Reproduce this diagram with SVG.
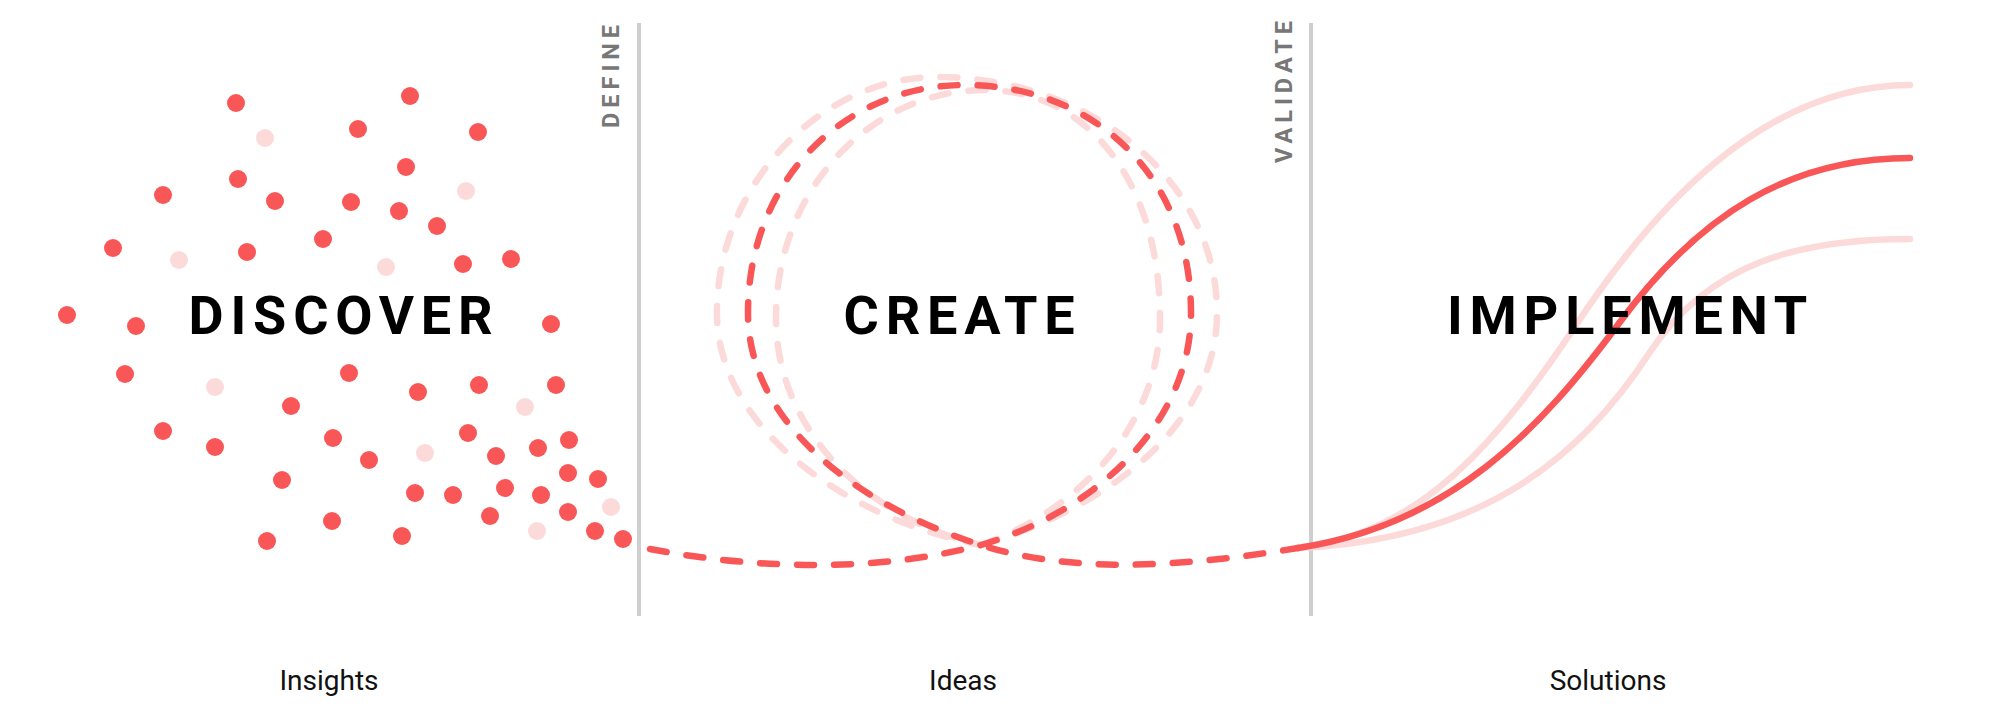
<svg xmlns="http://www.w3.org/2000/svg" width="2000" height="718" viewBox="0 0 2000 718">
<style>
.dot{fill:#F95757}
.dot.l{fill:#FDDADA}
.div{stroke:#CFCFCF;stroke-width:4;fill:none}
.title{font-family:Roboto,"Liberation Sans",sans-serif;font-weight:700;font-size:54px;letter-spacing:6.8px;fill:#000;text-anchor:middle}
.gate{font-family:Roboto,"Liberation Sans",sans-serif;font-weight:700;font-size:23.5px;letter-spacing:5px;fill:#777}
.lab{font-family:Roboto,"Liberation Sans",sans-serif;font-size:28px;fill:#111;text-anchor:middle}
.dash{fill:none;stroke:#F95757;stroke-width:6.5;stroke-linecap:round;stroke-dasharray:17 20}
.dashl{fill:none;stroke:#FDDADA;stroke-width:6.5;stroke-linecap:round;stroke-dasharray:17 20}
.solid{fill:none;stroke:#F95757;stroke-width:6.5;stroke-linecap:round}
.solidl{fill:none;stroke:#FDDADA;stroke-width:6.5;stroke-linecap:round}
</style>
<rect width="2000" height="718" fill="#fff"/>
<g id="discover">
<circle class="dot" cx="236" cy="103" r="9"/>
<circle class="dot l" cx="265" cy="138" r="9"/>
<circle class="dot" cx="410" cy="96" r="9"/>
<circle class="dot" cx="358" cy="129" r="9"/>
<circle class="dot" cx="478" cy="132" r="9"/>
<circle class="dot" cx="406" cy="167" r="9"/>
<circle class="dot" cx="238" cy="179" r="9"/>
<circle class="dot" cx="163" cy="195" r="9"/>
<circle class="dot" cx="275" cy="201" r="9"/>
<circle class="dot" cx="351" cy="202" r="9"/>
<circle class="dot" cx="399" cy="211" r="9"/>
<circle class="dot l" cx="466" cy="191" r="9"/>
<circle class="dot" cx="437" cy="226" r="9"/>
<circle class="dot" cx="323" cy="239" r="9"/>
<circle class="dot" cx="113" cy="248" r="9"/>
<circle class="dot l" cx="179" cy="260" r="9"/>
<circle class="dot" cx="247" cy="252" r="9"/>
<circle class="dot l" cx="386" cy="267" r="9"/>
<circle class="dot" cx="463" cy="264" r="9"/>
<circle class="dot" cx="511" cy="259" r="9"/>
<circle class="dot" cx="67" cy="315" r="9"/>
<circle class="dot" cx="136" cy="326" r="9"/>
<circle class="dot" cx="551" cy="324" r="9"/>
<circle class="dot" cx="125" cy="374" r="9"/>
<circle class="dot l" cx="215" cy="387" r="9"/>
<circle class="dot" cx="349" cy="373" r="9"/>
<circle class="dot" cx="418" cy="392" r="9"/>
<circle class="dot" cx="479" cy="385" r="9"/>
<circle class="dot" cx="556" cy="385" r="9"/>
<circle class="dot l" cx="525" cy="407" r="9"/>
<circle class="dot" cx="291" cy="406" r="9"/>
<circle class="dot" cx="163" cy="431" r="9"/>
<circle class="dot" cx="215" cy="447" r="9"/>
<circle class="dot" cx="333" cy="438" r="9"/>
<circle class="dot" cx="369" cy="460" r="9"/>
<circle class="dot l" cx="425" cy="453" r="9"/>
<circle class="dot" cx="468" cy="433" r="9"/>
<circle class="dot" cx="496" cy="456" r="9"/>
<circle class="dot" cx="538" cy="448" r="9"/>
<circle class="dot" cx="569" cy="440" r="9"/>
<circle class="dot" cx="282" cy="480" r="9"/>
<circle class="dot" cx="415" cy="493" r="9"/>
<circle class="dot" cx="453" cy="495" r="9"/>
<circle class="dot" cx="505" cy="488" r="9"/>
<circle class="dot" cx="541" cy="495" r="9"/>
<circle class="dot" cx="568" cy="473" r="9"/>
<circle class="dot" cx="598" cy="479" r="9"/>
<circle class="dot l" cx="611" cy="507" r="9"/>
<circle class="dot" cx="568" cy="512" r="9"/>
<circle class="dot" cx="490" cy="516" r="9"/>
<circle class="dot" cx="332" cy="521" r="9"/>
<circle class="dot" cx="402" cy="536" r="9"/>
<circle class="dot" cx="267" cy="541" r="9"/>
<circle class="dot l" cx="537" cy="531" r="9"/>
<circle class="dot" cx="595" cy="531" r="9"/>
<circle class="dot" cx="623" cy="539" r="9"/>
<text class="title" x="344" y="334">DISCOVER</text>
</g>
<g id="define">
<line class="div" x1="639" y1="23" x2="639" y2="616"/>
<text class="gate" transform="translate(619,128) rotate(-90)">DEFINE</text>
</g>
<g id="validate">
<line class="div" x1="1311" y1="23" x2="1311" y2="616"/>
<text class="gate" transform="translate(1292,163) rotate(-90)">VALIDATE</text>
</g>
<g id="connectors">
<path class="dashl" d="M981,545 C1115,506 1217,420 1217,313 C1217,180 1090,77 937,77 C820,77 717,185 717,313 C717,430 850,520 981,545"/>
<path class="dashl" d="M981,545 C1080,510 1160,425 1160,318 C1160,185 1090,90 985,90 C870,90 776,190 776,318 C776,432 870,520 981,545"/>
<path class="solidl" d="M1298,548 C1420,535 1500,440 1578,322 C1650,214 1760,85 1910,85"/>
<path class="solidl" d="M1298,548 C1480,540 1580,460 1650,352 C1710,262 1800,239 1910,239"/>
<path class="dash" d="M650,549 C760,570 880,572 981,545 C1100,510 1191,420 1191,313 C1191,172 1090,85 965,85 C845,85 748,180 748,313 C748,430 870,510 981,545 C1081,577 1200,564 1298,548"/>
<path class="solid" d="M1298,548 C1450,525 1540,430 1620,322 C1700,214 1790,158 1910,158"/>
</g>
<g id="create">
<text class="title" x="962.5" y="334">CREATE</text>
</g>
<g id="implement">
<text class="title" x="1630.5" y="334">IMPLEMENT</text>
</g>
<g id="labels">
<text class="lab" x="329" y="690">Insights</text>
<text class="lab" x="963" y="690">Ideas</text>
<text class="lab" x="1608" y="690">Solutions</text>
</g>
</svg>
